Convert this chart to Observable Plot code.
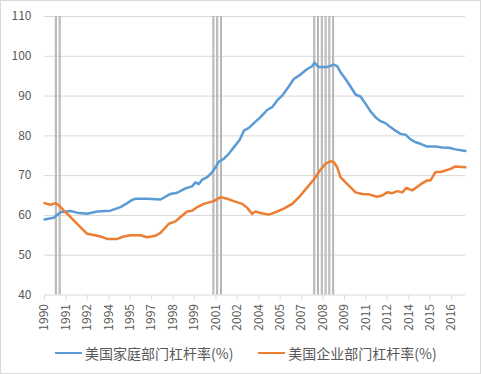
<!DOCTYPE html>
<html>
<head>
<meta charset="utf-8">
<script src="https://cdn.jsdelivr.net/npm/d3@7"></script>
<script src="https://cdn.jsdelivr.net/npm/@observablehq/plot@0.6"></script>
<style>
  html, body { margin: 0; padding: 0; background: #fff; }
  #wrap { position: relative; width: 481px; height: 374px; overflow: hidden; font-family: "Noto Sans CJK SC", "Noto Sans", sans-serif; }
  #frame { position: absolute; left: 0; top: 0; width: 481px; height: 374px; box-sizing: border-box; border: 1px solid #d9d9d9; pointer-events: none; }
  #chart { position: absolute; left: 0; top: 0; }
  #legend { position: absolute; left: 55px; top: 343px; display: flex; align-items: center; font-size: 14px; color: #595959; white-space: nowrap; }
  .item { display: flex; align-items: center; }
  .sw { display: inline-block; width: 27px; height: 2.5px; margin-right: 3px; }
</style>
</head>
<body>
<div id="wrap">
  <div id="chart"></div>
  <div id="legend"></div>
  <div id="frame"></div>
</div>
<script>
// Series names
const seriesNames = ["美国家庭部门杠杆率(%)", "美国企业部门杠杆率(%)"];
const seriesColors = ["#5b9bd5", "#ed7d31"];

// Household leverage (decimal year, %)
const householdYears = [1990.0,1990.61,1991.06,1991.72,1992.16,1992.82,1993.48,1994.36,1995.02,1995.47,1995.80,1996.02,1996.79,1997.67,1998.33,1998.77,1999.32,1999.76,1999.98,2000.20,2000.43,2000.76,2001.09,2001.31,2001.52,2001.85,2002.18,2002.51,2002.91,2003.18,2003.51,2003.84,2004.28,2004.72,2005.05,2005.38,2005.71,2006.15,2006.48,2006.92,2007.37,2007.70,2007.85,2008.13,2008.69,2009.13,2009.35,2009.57,2009.90,2010.23,2010.56,2010.89,2011.22,2011.55,2011.88,2012.21,2012.54,2012.87,2013.20,2013.54,2013.87,2014.20,2014.53,2014.86,2015.30,2015.85,2016.29,2016.73,2017.17,2017.83];
const householdValues = [59.0,59.4,60.8,61.1,60.7,60.4,61.0,61.2,62.1,63.1,63.9,64.2,64.2,64.0,65.4,65.7,66.8,67.3,68.3,67.9,69.0,69.6,70.9,72.1,73.5,74.2,75.5,77.1,79.0,81.3,82.0,83.2,84.7,86.5,87.2,88.9,90.1,92.4,94.3,95.4,96.8,97.5,98.4,97.3,97.3,97.9,97.5,96.0,94.3,92.4,90.4,89.9,88.1,86.2,84.7,83.7,83.2,82.2,81.3,80.5,80.3,79.1,78.4,78.0,77.3,77.3,77.1,77.0,76.6,76.2];

// Corporate leverage (decimal year, %)
const corporateYears = [1990.0,1990.40,1990.73,1990.95,1991.28,1991.72,1992.16,1992.60,1992.82,1993.26,1993.70,1994.15,1994.81,1995.24,1995.69,1996.35,1996.79,1997.34,1997.67,1998.22,1998.66,1998.99,1999.43,1999.76,2000.10,2000.53,2001.19,2001.64,2002.08,2002.51,2003.07,2003.40,2003.73,2003.95,2004.28,2004.83,2005.27,2005.82,2006.38,2006.92,2007.47,2007.92,2008.20,2008.58,2008.91,2009.13,2009.35,2009.57,2009.90,2010.23,2010.56,2011.00,2011.44,2011.99,2012.33,2012.66,2012.99,2013.32,2013.65,2013.93,2014.31,2014.86,2015.30,2015.52,2015.85,2016.18,2016.51,2016.84,2017.17,2017.83];
const corporateValues = [63.1,62.7,63.1,62.5,61.2,59.6,57.9,56.2,55.4,55.1,54.7,54.1,54.1,54.7,55.0,55.0,54.5,54.9,55.6,57.9,58.5,59.6,61.0,61.2,62.1,62.9,63.6,64.6,64.2,63.6,62.9,61.9,60.4,61.0,60.6,60.2,60.8,61.7,62.9,65.0,67.5,69.6,71.3,73.0,73.6,73.4,72.1,69.6,68.3,67.1,65.8,65.4,65.3,64.7,65.0,65.8,65.6,66.1,65.8,66.9,66.3,67.8,68.8,68.8,70.9,70.9,71.3,71.7,72.3,72.1];

// Recession marker lines (decimal year)
const recessionLines = [1990.75,1991.0,2001.167,2001.417,2001.667,2007.833,2008.083,2008.333,2008.583,2008.833,2009.083];

// X tick labels (category axis, one label every 17 months)
const xTickLabels = ["1990","1991","1992","1994","1995","1997","1998","1999","2001","2002","2004","2005","2007","2008","2009","2011","2012","2014","2015","2016"];
const xTickPos = xTickLabels.map((_, i) => 1990 + i * 17 / 12);
const yTicks = [40, 50, 60, 70, 80, 90, 100, 110];

const rows = [];
householdYears.forEach((t, i) => rows.push({t, v: householdValues[i], s: seriesNames[0]}));
corporateYears.forEach((t, i) => rows.push({t, v: corporateValues[i], s: seriesNames[1]}));

const chart = Plot.plot({
  width: 481,
  height: 334,
  marginLeft: 44,
  marginRight: 16,
  marginTop: 16,
  marginBottom: 39.5,
  style: {fontFamily: '"Noto Sans CJK SC", "Noto Sans", sans-serif', fontSize: "12px", color: "#595959", background: "transparent"},
  x: {domain: [1990, 1990 + 334 / 12], label: null},
  y: {domain: [40, 110], label: null},
  color: {domain: seriesNames, range: seriesColors},
  marks: [
    Plot.gridY(yTicks.filter(d => d > 40), {stroke: "#d9d9d9", strokeOpacity: 1, strokeWidth: 1}),
    Plot.ruleX(recessionLines, {x: d => d, y1: 40, y2: 110, stroke: "#a6a6a6", strokeWidth: 2}),
    Plot.ruleX(recessionLines, {x: d => d, y1: 40, y2: 110, stroke: "#d4d4d4", strokeWidth: 0.7}),
    Plot.ruleY([40], {stroke: "#d9d9d9", strokeWidth: 1}),
    Plot.axisY({ticks: yTicks, tickSize: 0, tickPadding: 13, fill: "#595959", fontSize: 12, label: null}),
    Plot.axisX({ticks: xTickPos, tickFormat: d => xTickLabels[xTickPos.indexOf(d)], tickRotate: -90, tickSize: 5, tickPadding: 4, stroke: "#d9d9d9", fill: "#595959", fontSize: 12, label: null}),
    Plot.line(rows, {x: "t", y: "v", z: "s", stroke: "s", strokeWidth: 2.5, curve: "linear"})
  ]
});
document.getElementById("chart").appendChild(chart);

const legend = document.getElementById("legend");
seriesNames.forEach((name, i) => {
  const item = document.createElement("div");
  item.className = "item";
  if (i > 0) item.style.marginLeft = "25px";
  const sw = document.createElement("span");
  sw.className = "sw";
  sw.style.background = seriesColors[i];
  const lab = document.createElement("span");
  lab.textContent = name;
  item.appendChild(sw);
  item.appendChild(lab);
  legend.appendChild(item);
});
</script>
</body>
</html>
